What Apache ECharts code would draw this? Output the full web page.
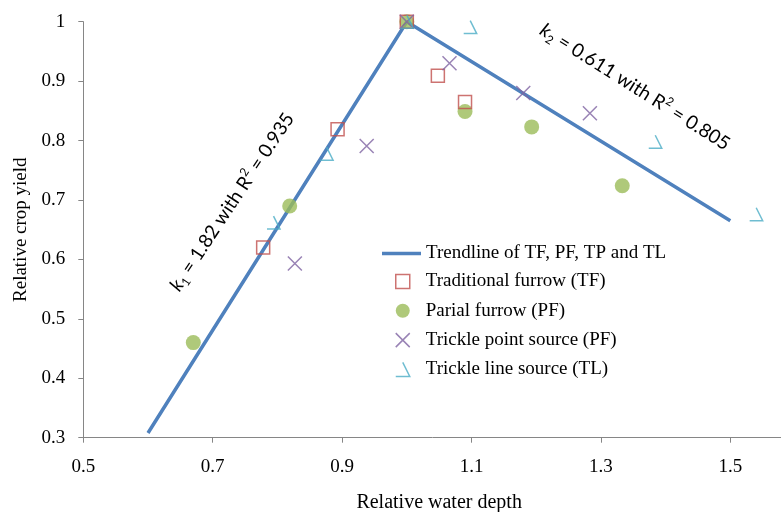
<!DOCTYPE html>
<html>
<head>
<meta charset="utf-8">
<script src="https://cdn.jsdelivr.net/npm/echarts@6/dist/echarts.min.js"></script>
<style>html,body{margin:0;padding:0;background:#fff;}#c{width:781px;height:512px;}</style>
</head>
<body>
<div id="c"></div>
<script>
var xTicks = [0.5, 0.7, 0.9, 1.1, 1.3, 1.5];
var yTicks = [0.3, 0.4, 0.5, 0.6, 0.7, 0.8, 0.9, 1];
var trendline = [[0.6, 0.308], [1.0, 1.0], [1.5, 0.665]];
var tfData = [[0.778, 0.620], [0.893, 0.819], [1.0, 1.0], [1.048, 0.909], [1.090, 0.865]];
var pfData = [[0.670, 0.460], [0.819, 0.690], [1.0, 1.0], [1.090, 0.849], [1.193, 0.823], [1.333, 0.724]];
var tpData = [[0.827, 0.593], [0.938, 0.791], [1.0, 1.0], [1.066, 0.930], [1.180, 0.880], [1.283, 0.846]];
var tlData = [[0.794, 0.662], [0.876, 0.778], [1.0, 1.0], [1.098, 0.991], [1.384, 0.798], [1.540, 0.676]];
var names = ['Trendline of TF, PF, TP and TL', 'Traditional furrow (TF)', 'Parial furrow (PF)', 'Trickle point source (PF)', 'Trickle line source (TL)'];

var serif = 'Liberation Serif';
var chart = echarts.init(document.getElementById('c'), null, {renderer: 'canvas'});
var axisGray = '#868686';
function richStyles() {
  return {
    k: {fontFamily: 'Lato', fontSize: 19, fontStyle: 'italic', lineHeight: 24, fill: '#000'},
    m: {fontFamily: 'Lato', fontSize: 19, lineHeight: 24, fill: '#000'},
    sub: {fontFamily: 'Lato', fontSize: 12, lineHeight: 24, verticalAlign: 'bottom', fill: '#000'},
    sup: {fontFamily: 'Lato', fontSize: 12, lineHeight: 24, verticalAlign: 'top', fill: '#000'}
  };
}
var option = {
  animation: false,
  grid: {left: 83.3, top: 21.7, bottom: 74.3, right: -14, containLabel: false, outerBoundsMode: 'none'},
  xAxis: {
    type: 'value', min: 0.5, max: 1.6,
    name: 'Relative water depth', nameLocation: 'middle', nameGap: 55,
    nameTextStyle: {fontFamily: serif, fontSize: 20, color: '#000'},
    axisLine: {show: true, onZero: false, lineStyle: {color: axisGray, width: 1}},
    axisTick: {show: true, length: 5, customValues: xTicks, lineStyle: {color: axisGray}},
    axisLabel: {customValues: xTicks, fontFamily: serif, fontSize: 19, color: '#000', margin: 20},
    splitLine: {show: false}
  },
  yAxis: {
    type: 'value', min: 0.3, max: 1,
    name: 'Relative crop yield', nameLocation: 'middle', nameGap: 52,
    nameTextStyle: {fontFamily: serif, fontSize: 19, color: '#000'},
    axisLine: {show: true, onZero: false, lineStyle: {color: axisGray, width: 1}},
    axisTick: {show: true, length: 5, customValues: yTicks, lineStyle: {color: axisGray}},
    axisLabel: {customValues: yTicks, fontFamily: serif, fontSize: 19, color: '#000', margin: 18},
    splitLine: {show: false}
  },
  legend: [{
    data: [{name: names[0], icon: 'rect'}], orient: 'vertical', left: 382, top: 244,
    itemWidth: 39, itemHeight: 3.5, itemGap: 10.5, textStyle: {fontFamily: serif, fontSize: 19, color: '#000'},
    padding: 0
  }, {
    data: names.slice(1), orient: 'vertical', left: 395, top: 272,
    itemWidth: 14, itemHeight: 14, itemGap: 10.3, textStyle: {fontFamily: serif, fontSize: 19, color: '#000', padding: [0, 0, 0, 11]},
    padding: 0, itemStyle: {borderWidth: 1.5}
  }],
  series: [
    {name: names[0], type: 'line', data: trendline, symbol: 'none', showSymbol: false,
     lineStyle: {color: '#4F81BD', width: 3.5}, itemStyle: {color: '#4F81BD'}, z: 1, silent: true},
    {name: names[1], type: 'scatter', data: tfData, symbol: 'rect', symbolSize: 13,
     itemStyle: {color: 'rgba(255,255,255,0)', borderColor: '#C0504D', borderWidth: 1.5}, z: 3},
    {name: names[2], type: 'scatter', data: pfData, symbol: 'circle', symbolSize: 15,
     itemStyle: {color: '#9BBB59'}, z: 2},
    {name: names[3], type: 'scatter', data: tpData, symbol: 'path://M0,0L10,10M10,0L0,10', symbolSize: 14,
     itemStyle: {color: 'rgba(255,255,255,0)', borderColor: '#8064A2', borderWidth: 1.5}, z: 4},
    {name: names[4], type: 'scatter', data: tlData, symbol: 'path://M5,0L10,10L0,10', symbolSize: [13, 13],
     itemStyle: {color: 'rgba(255,255,255,0)', borderColor: '#4BACC6', borderWidth: 1.5}, z: 5}
  ],
  graphic: [
    {type: 'text', x: 232, y: 202, rotation: 56.5 * Math.PI / 180, z: 10,
     style: {text: '{k|k}{sub|1}{m| = 1.82 with R}{sup|2}{m| = 0.935}', align: 'center', verticalAlign: 'middle', rich: richStyles()}},
    {type: 'text', x: 635, y: 87, rotation: -32.2 * Math.PI / 180, z: 10,
     style: {text: '{k|k}{sub|2}{m| = 0.611 with R}{sup|2}{m| = 0.805}', align: 'center', verticalAlign: 'middle', rich: richStyles()}}
  ]
};
chart.setOption(option);
</script>
</body>
</html>
